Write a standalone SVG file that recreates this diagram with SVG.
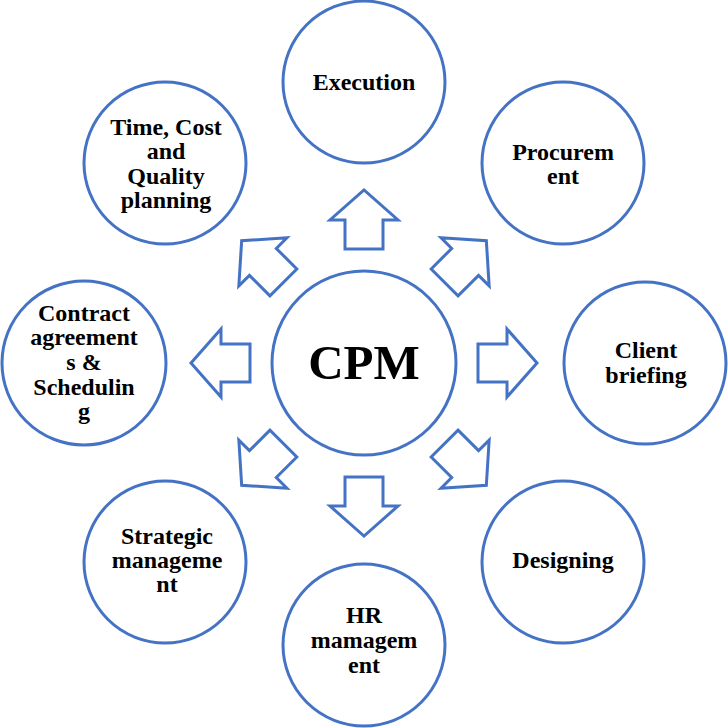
<svg xmlns="http://www.w3.org/2000/svg" width="728" height="728" viewBox="0 0 728 728">
<defs>
<style>
.c{fill:#fff;stroke:#4472C4;stroke-width:3}
.a{fill:#fff;stroke:#4472C4;stroke-width:3;stroke-linejoin:miter}
.t{font-family:"Liberation Serif","Times New Roman",serif;font-weight:bold;font-size:24px;fill:#000;text-anchor:middle}
.big{font-size:49px}
</style>
<path id="arr" d="M -19,-114 L -19,-143 L -34,-143 L 0,-173 L 34,-143 L 19,-143 L 19,-114 Z"/>
</defs>
<rect width="728" height="728" fill="#fff"/>
<g id="connectors" transform="translate(364,363)">
<use href="#arr" class="a"/>
<use href="#arr" class="a" transform="rotate(45)"/>
<use href="#arr" class="a" transform="rotate(90)"/>
<use href="#arr" class="a" transform="rotate(135)"/>
<use href="#arr" class="a" transform="rotate(180)"/>
<use href="#arr" class="a" transform="rotate(225)"/>
<use href="#arr" class="a" transform="rotate(270)"/>
<use href="#arr" class="a" transform="rotate(315)"/>
</g>
<g id="cpm">
<circle class="c" cx="364" cy="363" r="92"/>
<text class="t big" x="364" y="379">CPM</text>
</g>
<g id="execution">
<circle class="c" cx="364" cy="82" r="81"/>
<text class="t" x="364" y="90">Execution</text>
</g>
<g id="procurement">
<circle class="c" cx="563" cy="163" r="81"/>
<text class="t" x="563" y="160">Procurem</text>
<text class="t" x="563" y="184">ent</text>
</g>
<g id="client">
<circle class="c" cx="645" cy="363" r="81"/>
<text class="t" x="646" y="358">Client</text>
<text class="t" x="646" y="383">briefing</text>
</g>
<g id="designing">
<circle class="c" cx="563" cy="562" r="81"/>
<text class="t" x="563" y="568">Designing</text>
</g>
<g id="hr">
<circle class="c" cx="364" cy="645" r="81"/>
<text class="t" x="364" y="623">HR</text>
<text class="t" x="364" y="648">mamagem</text>
<text class="t" x="364" y="673">ent</text>
</g>
<g id="strategic">
<circle class="c" cx="165" cy="562" r="81"/>
<text class="t" x="167" y="544">Strategic</text>
<text class="t" x="167" y="568">manageme</text>
<text class="t" x="167" y="592">nt</text>
</g>
<g id="contract">
<circle class="c" cx="84" cy="363" r="82"/>
<text class="t" x="84" y="321">Contract</text>
<text class="t" x="84" y="345">agreement</text>
<text class="t" x="84" y="370">s &amp;</text>
<text class="t" x="84" y="395">Schedulin</text>
<text class="t" x="84" y="419">g</text>
</g>
<g id="time">
<circle class="c" cx="165" cy="163" r="81"/>
<text class="t" x="166" y="135">Time, Cost</text>
<text class="t" x="166" y="159">and</text>
<text class="t" x="166" y="184">Quality</text>
<text class="t" x="166" y="208">planning</text>
</g>
</svg>
